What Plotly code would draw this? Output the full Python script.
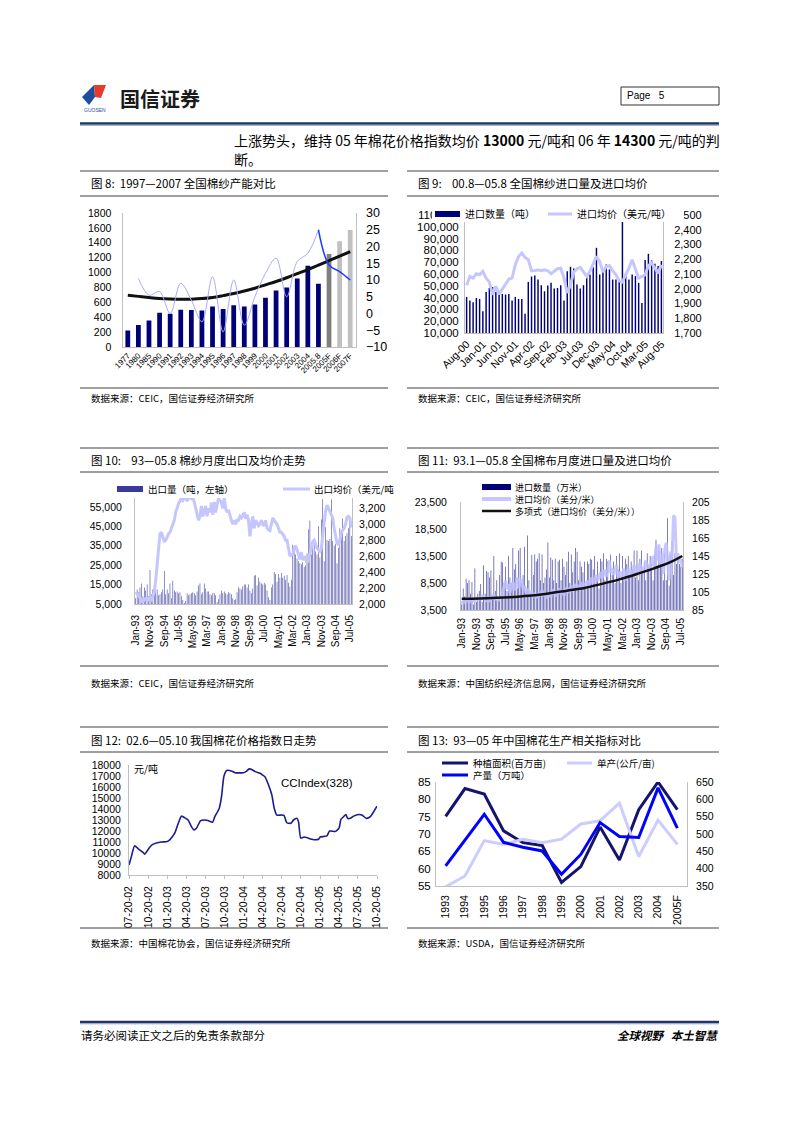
import pandas as pd
import plotly.graph_objects as go

W, H = 794, 1123


def px(x):
    return x / W


def py(y):
    return 1 - y / H


CJK = "Noto Sans CJK SC"
LAT = "Liberation Sans"

# ---------------- data ----------------
# Fig 8
f8_years = ["1977", "1980", "1985", "1990", "1991", "1992", "1993", "1994", "1995",
            "1996", "1997", "1998", "1999", "2000", "2001", "2002", "2003", "2004",
            "2005.8", "2005F", "2006F", "2007F"]
f8_capacity = [220, 295, 355, 460, 445, 500, 498, 490, 545, 512, 560, 545, 570,
               660, 760, 800, 920, 1090, 850, 1250, 1420, 1570]
f8_trend = [695, 680, 665, 652, 645, 642, 643, 650, 665, 690, 718, 752, 790, 835,
            880, 930, 985, 1040, 1100, 1160, 1220, 1280]
f8_growth_years = ["1980", "1985", "1990", "1991", "1992", "1993", "1994", "1995", "1996",
                   "1997", "1998", "1999", "2000", "2001", "2002", "2003", "2004", "2005.8"]
f8_growth = [10.5, 5.5, 6.5, 0, 9, 4, -2.5, 11, -5.5, 10, -3.5, 5, 12, 16.5, 5, 15.5, 18, 25]
f8_fc_years = ["2005.8", "2005F", "2006F", "2007F"]
f8_fc_growth = [25, 14.5, 12.5, 10]

# Fig 9 (Aug-00 .. Aug-05)
f9_months = pd.date_range("2000-08-01", periods=61, freq="MS").strftime("%b-%y").tolist()
f9_volume = [40600, 37500, 36000, 39700, 38900, 28400, 44800, 48200, 49000, 44800,
             43100, 43100, 42600, 43100, 37500, 40600, 38900, 38900, 26400, 53300,
             57900, 58700, 55300, 50500, 45400, 50200, 52500, 47700, 48200, 50500,
             37500, 62400, 66100, 64700, 51100, 47700, 50500, 57300, 59600, 65800,
             82200, 59600, 63900, 68100, 63900, 55300, 55300, 53300, 105000, 59600,
             55300, 59600, 58200, 52500, 35500, 71800, 77100, 71500, 68600, 66700, 71000]
f9_price = [2023, 2084, 2072, 2102, 2095, 2118, 2072, 2045, 1960, 2016,
            1964, 1998, 2027, 2066, 2072, 2163, 2219, 2242, 2212, 2197,
            2122, 2122, 2129, 2122, 2129, 2122, 2102, 2118, 2136, 2140,
            2072, 1971, 2027, 2113, 2136, 2145, 2113, 2084, 2118, 2163,
            2219, 2185, 2113, 2151, 2158, 2122, 2095, 2054, 2045, 2095,
            2140, 2197, 2129, 2072, 2084, 2095, 2156, 2174, 2140, 2106, 2163]

# Fig 10 (Jan-93 .. Aug-05)
f10_months = pd.date_range("1993-01-01", periods=152, freq="MS").strftime("%b-%y").tolist()
f10_volume = [8000, 12500, 11000, 13500, 15500, 9000, 13500, 12000, 15000, 9000,
              22500, 10000, 12500, 14500, 16000, 12500, 9500, 10000, 11000, 12500,
              22000, 10000, 12500, 10500, 15500, 8000, 17000, 12000, 11000, 11500,
              10500, 11000, 9000, 7000, 5500, 6500, 10500, 9500, 10000, 10500,
              11000, 10500, 9500, 11500, 14500, 15500, 10000, 11000, 15500, 13000,
              11500, 11500, 10000, 9500, 10500, 10500, 9500, 6000, 7500, 10000,
              12000, 10500, 11500, 10500, 10000, 11000, 10500, 10000, 8000, 7000,
              7500, 11000, 13500, 13000, 12500, 14000, 15000, 15000, 13500, 15000,
              12000, 10500, 13000, 19500, 20000, 14500, 18500, 16500, 15500, 15000,
              16000, 15000, 12000, 8500, 7000, 13500, 15000, 21500, 20500, 16500,
              20500, 18500, 21000, 18500, 19500, 17500, 20000, 16000, 14000, 17500,
              35500, 35000, 30500, 28500, 27000, 26000, 25500, 26500, 24000, 25000,
              31000, 43500, 48000, 30500, 35000, 37000, 32000, 30500, 45000, 29000,
              48500, 59000, 27000, 44500, 38000, 37500, 38500, 59000, 37500, 35000,
              36000, 26000, 34000, 44000, 42000, 49000, 37500, 40000, 41500, 44000,
              49000, 40000]
f10_price = [2150, 2130, 2100, 2080, 2050, 2020, 2060, 2070, 2040, 2070,
             2060, 2050, 2100, 2150, 2300, 2500, 2750, 2880, 2900, 2850,
             2780, 2800, 2850, 2880, 2900, 2950, 2980, 3050, 3150, 3210,
             3260, 3290, 3330, 3300, 3330, 3330, 3290, 3330, 3330, 3320,
             3330, 3280, 3200, 3100, 3050, 3100, 3230, 3100, 3180, 3230,
             3100, 3200, 3150, 3270, 3120, 3280, 3150, 3250, 3330, 3300,
             3280, 3200, 3330, 3200, 3150, 3180, 3100, 3050, 3000, 3050,
             3000, 3050, 3050, 3100, 3080, 3120, 3150, 3070, 3120, 3050,
             2850, 3000, 3100, 2950, 3050, 3020, 2980, 3000, 3050, 3000,
             2980, 3050, 2950, 2930, 2920, 3000, 3080, 3050, 3020, 3000,
             2950, 2900, 2900, 2880, 2850, 2800, 2800, 2700, 2600, 2620,
             2620, 2700, 2730, 2680, 2620, 2560, 2650, 2550, 2600, 2560,
             2520, 2550, 2620, 2720, 2780, 2800, 2750, 2700, 2680, 2650,
             2700, 2840, 3050, 3170, 3240, 3200, 3150, 3100, 3080, 2950,
             2850, 2760, 2740, 2800, 2900, 2920, 2950, 3000, 3090, 3100,
             3080, 2960]

# Fig 11 (Jan-93 .. Aug-05)
f11_months = pd.date_range("1993-01-01", periods=152, freq="MS").strftime("%b-%y").tolist()
f11_volume = [4500, 7500, 6000, 9300, 8500, 9000, 6500, 8700, 4500, 11200,
              5000, 6500, 7000, 8300, 5000, 11800, 6500, 10700, 10500, 9500,
              10800, 6000, 13500, 7000, 9000, 5500, 10000, 12500, 12300, 8500,
              11500, 7000, 13500, 9500, 8500, 15000, 11000, 12000, 7500, 14500,
              15000, 8500, 10000, 15200, 7000, 17300, 9000, 6500, 13700, 10000,
              13800, 12500, 13000, 14000, 9000, 13800, 8500, 9500, 11000, 16000,
              9500, 13200, 12800, 9000, 13000, 8500, 12500, 12800, 9000, 13000,
              11500, 10000, 12500, 14300, 8500, 13800, 10500, 12500, 15000, 14300,
              9000, 12500, 11500, 10500, 12500, 8000, 12500, 12000, 13000, 12800,
              11000, 13500, 9500, 12500, 7500, 13000, 12500, 14000, 9000, 13000,
              12500, 9000, 13800, 10000, 12500, 8500, 13500, 11000, 14000, 8500,
              13500, 9000, 13000, 12000, 13500, 10000, 12500, 11000, 14500, 9500,
              14500, 9000, 13000, 14500, 10500, 12500, 9000, 14000, 11500, 13500,
              12000, 9000, 13800, 16500, 11500, 14500, 12000, 15000, 9000, 14000,
              9000, 20500, 8000, 13800, 16200, 10000, 14000, 12000, 13500, 12000,
              11500, 13000]
f11_price = [95, 92, 97, 94, 99, 93, 96, 98, 94, 97,
             99, 95, 100, 96, 102, 97, 99, 94, 98, 96,
             100, 97, 103, 96, 99, 95, 100, 98, 106, 112,
             118, 108, 114, 104, 110, 116, 107, 112, 121, 110,
             115, 119, 108, 112, 104, 109, 101, 106, 100, 104,
             99, 103, 98, 105, 101, 107, 100, 104, 98, 102,
             104, 99, 108, 102, 106, 100, 104, 109, 103, 107,
             101, 106, 110, 104, 108, 112, 105, 110, 114, 108,
             113, 107, 111, 116, 109, 114, 118, 111, 116, 121,
             114, 119, 124, 117, 122, 127, 120, 125, 130, 122,
             128, 140, 126, 131, 124, 129, 135, 122, 128, 119,
             125, 131, 118, 126, 132, 121, 129, 124, 135, 127,
             123, 131, 137, 126, 133, 128, 140, 131, 136, 129,
             138, 145, 132, 155, 140, 158, 135, 148, 125, 152,
             160, 142, 118, 150, 143, 190, 188, 140, 148, 138,
             142, 132]
f11_trend_months = ["Jan-93", "Jan-94", "Jan-95", "Jan-96", "Jan-97", "Jan-98", "Jan-99",
                    "Jan-00", "Jan-01", "Jan-02", "Jan-03", "Jan-04", "Jan-05", "Aug-05"]
f11_trend = [97.5, 97.8, 98.5, 99.5, 101, 103.5, 106.5, 109.5, 114, 119, 125, 131.5, 139, 145]

# Fig 12 (daily index, sampled)
f12_dates = ["2002-07-20", "2002-07-31", "2002-08-16", "2002-09-01", "2002-09-25", "2002-10-03",
             "2002-10-19", "2002-11-04", "2002-11-28", "2002-12-22", "2003-01-19", "2003-01-31",
             "2003-02-24", "2003-03-12", "2003-03-28", "2003-04-18", "2003-04-29", "2003-05-15",
             "2003-05-27", "2003-06-08", "2003-06-28", "2003-07-18", "2003-08-03", "2003-08-24",
             "2003-09-04", "2003-09-25", "2003-10-06", "2003-10-18", "2003-10-31", "2003-11-23",
             "2003-12-10", "2004-01-19", "2004-01-31", "2004-02-16", "2004-03-03", "2004-03-15",
             "2004-04-08", "2004-04-19", "2004-05-02", "2004-05-18", "2004-06-03", "2004-06-15",
             "2004-06-27", "2004-07-21", "2004-08-01", "2004-08-14", "2004-09-02", "2004-09-15",
             "2004-10-01", "2004-10-09", "2004-10-20", "2004-11-05", "2004-11-26", "2004-12-12",
             "2004-12-28", "2005-01-13", "2005-01-21", "2005-02-06", "2005-02-22", "2005-03-07",
             "2005-04-03", "2005-04-11", "2005-04-22", "2005-04-30", "2005-05-13", "2005-05-24",
             "2005-06-01", "2005-06-14", "2005-06-30", "2005-07-24", "2005-08-09", "2005-08-30",
             "2005-09-18", "2005-10-04", "2005-10-20"]
f12_index = [8900, 9650, 10650, 10400, 10050, 9900, 10300, 10700, 10900, 11000, 11050, 11200,
             11800, 12650, 13350, 13150, 13000, 12400, 12100, 12250, 12950, 13000, 12950, 12800,
             13300, 14050, 15100, 17000, 17500, 17450, 17300, 17300, 17400, 17650, 17550, 17400,
             17250, 17100, 16900, 16200, 15300, 14050, 13450, 13450, 13400, 12750, 12700, 13000,
             13150, 12850, 11350, 11450, 11350, 11250, 11200, 11250, 11450, 11500, 11550, 12000,
             11950, 12050, 12300, 13050, 13300, 13500, 13150, 13150, 13350, 13500, 13450, 13150,
             13300, 13750, 14250]
f12_ticks = ["2002-07-20", "2002-10-20", "2003-01-20", "2003-04-20", "2003-07-20", "2003-10-20",
             "2004-01-20", "2004-04-20", "2004-07-20", "2004-10-20", "2005-01-20", "2005-04-20",
             "2005-07-20", "2005-10-20"]
f12_ticktext = ["07-20-02", "10-20-02", "01-20-03", "04-20-03", "07-20-03", "10-20-03",
                "01-20-04", "04-20-04", "07-20-04", "10-20-04", "01-20-05", "04-20-05",
                "07-20-05", "10-20-05"]

# Fig 13
f13_years = ["1993", "1994", "1995", "1996", "1997", "1998", "1999", "2000", "2001",
             "2002", "2003", "2004", "2005F"]
f13_area = [75.1, 83.1, 81.5, 70.9, 67.5, 66.7, 56.0, 60.6, 72.0, 62.5, 77.0, 85.0, 77.0]
f13_yield = [348, 379, 481, 470, 485, 475, 485, 529, 538, 589, 435, 540, 470]
f13_output = [408, 483, 557, 476, 462, 451, 384, 441, 533, 493, 490, 633, 517]

# ---------------- styles ----------------
NAVY = "#000078"
BAR_BLUE = "#3a3a9c"
LAV = "#c6c6ff"
AXC = "#bfbfbf"

fig = go.Figure()

# Fig 8 traces
f8_colors = ["#808080" if c == "2005F" else ("#c0c0c0" if c.endswith("F") else NAVY) for c in f8_years]
fig.add_trace(go.Bar(x=f8_years, y=f8_capacity, marker=dict(color=f8_colors, line_width=0),
                     width=0.45, xaxis="x", yaxis="y", showlegend=False))
fig.add_trace(go.Scatter(x=f8_years, y=f8_trend, mode="lines", line=dict(color="#111111", width=3, shape="spline"),
                         xaxis="x", yaxis="y", showlegend=False))
fig.add_trace(go.Scatter(x=f8_growth_years, y=f8_growth, mode="lines",
                         line=dict(color="#a8a8ff", width=1, shape="spline", smoothing=1.0),
                         xaxis="x", yaxis="y2", showlegend=False))
fig.add_trace(go.Scatter(x=f8_fc_years, y=f8_fc_growth, mode="lines",
                         line=dict(color="#1e3cff", width=1.5, shape="spline", smoothing=1.0),
                         xaxis="x", yaxis="y2", showlegend=False))

# Fig 9 traces
fig.add_trace(go.Bar(x=f9_months, y=f9_volume, marker=dict(color=NAVY, line_width=0), width=0.45,
                     xaxis="x2", yaxis="y3", showlegend=False))
fig.add_trace(go.Scatter(x=f9_months, y=f9_price, mode="lines", line=dict(color=LAV, width=3),
                         xaxis="x2", yaxis="y4", showlegend=False))

# Fig 10 traces
fig.add_trace(go.Bar(x=f10_months, y=f10_volume, marker=dict(color=BAR_BLUE, line_width=0), width=0.4,
                     xaxis="x3", yaxis="y5", showlegend=False))
fig.add_trace(go.Scatter(x=f10_months, y=f10_price, mode="lines", line=dict(color=LAV, width=3),
                         xaxis="x3", yaxis="y6", showlegend=False))

# Fig 11 traces
fig.add_trace(go.Bar(x=f11_months, y=f11_volume, marker=dict(color=BAR_BLUE, line_width=0), width=0.45,
                     xaxis="x4", yaxis="y7", showlegend=False))
fig.add_trace(go.Scatter(x=f11_months, y=f11_price, mode="lines", line=dict(color="rgba(190,190,255,0.85)", width=3),
                         xaxis="x4", yaxis="y8", showlegend=False))
fig.add_trace(go.Scatter(x=f11_trend_months, y=f11_trend, mode="lines",
                         line=dict(color="#111111", width=2.5, shape="spline"),
                         xaxis="x4", yaxis="y8", showlegend=False))

# Fig 12 trace
fig.add_trace(go.Scatter(x=f12_dates, y=f12_index, mode="lines",
                         line=dict(color="#1c1c90", width=1.6, shape="spline", smoothing=0.6),
                         xaxis="x5", yaxis="y9", showlegend=False))

# Fig 13 traces
fig.add_trace(go.Scatter(x=f13_years, y=f13_yield, mode="lines", line=dict(color="#ccccff", width=3),
                         xaxis="x6", yaxis="y11", showlegend=False))
fig.add_trace(go.Scatter(x=f13_years, y=f13_area, mode="lines", line=dict(color="#14146e", width=3),
                         xaxis="x6", yaxis="y10", showlegend=False))
fig.add_trace(go.Scatter(x=f13_years, y=f13_output, mode="lines", line=dict(color="#0000ff", width=3),
                         xaxis="x6", yaxis="y11", showlegend=False))


def xax(x0, x1, anchor, size=10, **kw):
    d = dict(domain=[px(x0), px(x1)], anchor=anchor, showgrid=False, zeroline=False, automargin=False,
             showline=True, linecolor=AXC, linewidth=1, ticks="", fixedrange=True,
             tickfont=dict(family=LAT, size=size, color="#000"))
    d.update(kw)
    return d


def yax(y0, y1, anchor, rng, dtick, size=10, side="left", overlaying=None, standoff=4, **kw):
    d = dict(anchor=anchor, side=side, range=rng, dtick=dtick, tick0=rng[0], showgrid=False,
             zeroline=False, showline=True, linecolor=AXC, linewidth=1, ticks="", fixedrange=True,
             automargin=False, ticklabelstandoff=standoff,
             tickfont=dict(family=LAT, size=size, color="#000"))
    if overlaying:
        d["overlaying"] = overlaying
    else:
        d["domain"] = [py(y1), py(y0)]
    d.update(kw)
    return d


layout = dict(
    width=W, height=H, margin=dict(l=0, r=0, t=0, b=0, pad=0, autoexpand=False), autosize=False,
    paper_bgcolor="white", plot_bgcolor="white", showlegend=False, bargap=0.5,
    # fig 8
    xaxis=xax(122.5, 355.5, "y", size=8, type="category", tickangle=-45, range=[-0.5, 21.5]),
    yaxis=yax(213, 347, "x", [0, 1800], 200, size=10.5, standoff=8),
    yaxis2=yax(213, 347, "x", [-10, 30], 5, size=12.5, side="right", overlaying="y", standoff=7),
    # fig 9
    xaxis2=xax(465, 663, "y3", size=10.5, type="category", tickangle=-45, range=[-0.5, 60.5],
               tickmode="array", tickvals=f9_months[::5]),
    yaxis3=yax(215, 333, "x2", [10000, 110000], 10000, size=11.5, standoff=3, tickformat=",d"),
    yaxis4=yax(215, 333, "x2", [1700, 2500], 100, size=11, side="right", overlaying="y3",
               standoff=8, tickformat=",d"),
    # fig 10
    xaxis3=xax(135, 352, "y5", size=10, type="category", tickangle=-90, range=[-0.5, 151.5],
               tickmode="array", tickvals=f10_months[::10], ticklabelstandoff=6),
    yaxis5=yax(498, 604, "x3", [5000, 59600], 10000, size=10.5, standoff=10, tickformat=",d"),
    yaxis6=yax(498, 604, "x3", [2000, 3330], 200, size=10.5, side="right", overlaying="y5",
               standoff=4, tickformat=",d"),
    # fig 11
    xaxis4=xax(461, 683, "y7", size=10, type="category", tickangle=-90, range=[-0.5, 151.5],
               tickmode="array", tickvals=f11_months[::10], ticklabelstandoff=3),
    yaxis7=yax(502, 610, "x4", [3500, 23500], 5000, size=10.5, standoff=11, tickformat=",d"),
    yaxis8=yax(502, 610, "x4", [85, 205], 20, size=10.5, side="right", overlaying="y7", standoff=6),
    # fig 12
    xaxis5=xax(129, 377, "y9", size=10.5, type="date", range=["2002-07-20", "2005-10-20"],
               tickangle=-90, tickmode="array", tickvals=f12_ticks, ticktext=f12_ticktext,
               ticks="outside", ticklen=3, tickcolor=AXC, ticklabelstandoff=3),
    yaxis9=yax(765, 875, "x5", [8000, 18000], 1000, size=10.5, standoff=5, tickformat="d"),
    # fig 13
    xaxis6=xax(436, 687, "y10", size=10.5, type="category", tickangle=-90, range=[-0.5, 12.5],
               ticklabelstandoff=4),
    yaxis10=yax(782, 886, "x6", [55, 85], 5, size=11.5, standoff=2),
    yaxis11=yax(782, 886, "x6", [350, 650], 50, size=10.5, side="right", overlaying="y10", standoff=6),
)

shapes = []
annotations = []


def hline(x0, x1, y, color="#404040", width=1, layer="above"):
    shapes.append(dict(type="line", xref="paper", yref="paper", x0=px(x0), x1=px(x1), y0=py(y), y1=py(y),
                       line=dict(color=color, width=width), layer=layer))


def rect(x0, y0, x1, y1, fill, line=None, lw=0, layer="above"):
    shapes.append(dict(type="rect", xref="paper", yref="paper", x0=px(x0), x1=px(x1), y0=py(y1), y1=py(y0),
                       fillcolor=fill, line=dict(color=line or fill, width=lw), layer=layer))


def text(x, y, s, size, family=CJK, anchor="left", color="#000"):
    annotations.append(dict(x=px(x), y=py(y), xref="paper", yref="paper", text=s, showarrow=False,
                            xanchor=anchor, yanchor="middle", font=dict(family=family, size=size, color=color),
                            borderpad=0))


# header
shapes.append(dict(type="path", xref="paper", yref="paper",
                   path="M {},{} L {},{} L {},{} L {},{} Z".format(px(82), py(97), px(94), py(85), px(95), py(97), px(89), py(105)),
                   fillcolor="#1f4e9c", line=dict(width=0)))
shapes.append(dict(type="path", xref="paper", yref="paper",
                   path="M {},{} L {},{} L {},{} L {},{} Z".format(px(94), py(85), px(106), py(85), px(101), py(98), px(95), py(97)),
                   fillcolor="#e8392b", line=dict(width=0)))
text(83, 110, "GUOSEN", 5, family=LAT, color="#1f4e9c")
text(119, 98, "<b>国信证券</b>", 20, color="#1a1a1a")
rect(621, 87, 719, 105, "white", line="#333333", lw=1)
text(626, 96, "Page   5", 10, family=LAT)
hline(80, 719, 123.5, color="#1c3768", width=2.5)
hline(80, 719, 125.3, color="#8fa3c8", width=1)

text(233, 140.5, "上涨势头，维持 05 年棉花价格指数均价 <b>13000</b> 元/吨和 06 年 <b>14300</b> 元/吨的判", 14)
text(233, 159, "断。", 14)

# section rules
for y in (171, 196, 388, 448, 472, 666, 727, 752, 928):
    hline(80, 388, y)
    hline(407, 719, y)

text(90, 183, "图 8:  1997—2007 全国棉纱产能对比", 11.5)
text(417, 183, "图 9:    00.8—05.8 全国棉纱进口量及进口均价", 11.5)
text(90, 460, "图 10:    93—05.8 棉纱月度出口及均价走势", 11.5)
text(417, 460, "图 11:  93.1—05.8 全国棉布月度进口量及进口均价", 11.5)
text(90, 740, "图 12:  02.6—05.10 我国棉花价格指数日走势", 11.5)
text(417, 740, "图 13:  93—05 年中国棉花生产相关指标对比", 11.5)

text(90, 398, "数据来源：CEIC，国信证券经济研究所", 9.5)
text(417, 398, "数据来源：CEIC，国信证券经济研究所", 9.5)
text(90, 683, "数据来源：CEIC，国信证券经济研究所", 9.5)
text(417, 683, "数据来源：中国纺织经济信息网，国信证券经济研究所", 9.5)
text(90, 943, "数据来源：中国棉花协会，国信证券经济研究所", 9.5)
text(417, 943, "数据来源：USDA，国信证券经济研究所", 9.5)

# fig 9 legend
rect(432, 207, 684, 222, "white")
rect(435, 211, 460, 217, NAVY)
text(464, 214, "进口数量（吨）", 10)
hline(548, 572, 214, color=LAV, width=3)
text(576, 214, "进口均价（美元/吨）", 10)

# fig 10 legend
rect(117, 486, 143, 492, BAR_BLUE)
text(147, 489, "出口量（吨，左轴）", 9.5)
hline(283, 310, 489, color=LAV, width=3)
text(313, 489, "出口均价（美元/吨", 9.5)

# fig 11 legend
rect(480, 480, 672, 516, "white")
rect(482, 484, 511, 490, NAVY)
text(514, 487, "进口数量（万米）", 9)
hline(482, 511, 499, color=LAV, width=4)
text(514, 499, "进口均价（美分/米）", 9)
hline(482, 511, 511, color="#111111", width=2.5)
text(514, 511, "多项式（进口均价（美分/米））", 9)

# fig 12 labels
text(133, 768, "元/吨", 10)
text(317, 783, "CCIndex(328)", 11.5, family=LAT, anchor="center")

# fig 13 legend
hline(442, 468, 763, color="#14146e", width=3)
text(472, 763, "种植面积(百万亩)", 9.5)
hline(567, 592, 763, color="#ccccff", width=3)
text(596, 763, "单产(公斤/亩)", 9.5)
hline(442, 468, 775, color="#0000ff", width=3)
text(472, 775, "产量（万吨）", 9.5)

# footer
hline(80, 719, 1022, color="#1c3768", width=2.5)
hline(80, 719, 1023.8, color="#8fa3c8", width=1)
text(80, 1035, "请务必阅读正文之后的免责条款部分", 11.5)
text(719, 1035, "<b><i>全球视野   本土智慧</i></b>", 11.5, anchor="right")

layout["shapes"] = shapes
layout["annotations"] = annotations
fig.update_layout(**layout)

fig.write_html("out.html", config={"displayModeBar": False, "staticPlot": True},
               post_script="document.body.style.margin='0';")
